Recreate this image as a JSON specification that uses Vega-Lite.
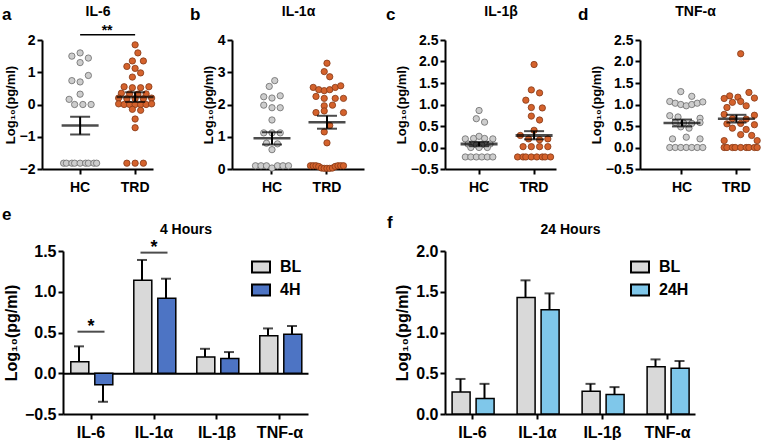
{
"$schema":"https://vega.github.io/schema/vega-lite/v6.json",
"padding":{"left":2,"top":4,"right":0,"bottom":0},
"config":{"font":"Liberation Sans","view":{"stroke":null},
"axis":{"domainColor":"black","domainWidth":2,"tickColor":"black","tickWidth":2,"tickSize":5,"labelColor":"black","titleColor":"black","labelFontWeight":"bold","titleFontWeight":"bold","grid":false,"labelFontSize":14,"titleFontSize":13,"labelOverlap":false},
"title":{"fontSize":17,"fontWeight":"bold","anchor":"start","frame":"group","color":"black","offset":-20},
"tick":{"color":"black"},"rule":{"color":"black"}},
"datasets":{
"pa":[{"g":"HC","v":1.6,"s":0},{"g":"HC","v":1.5,"s":-3},{"g":"HC","v":1.44,"s":3},{"g":"HC","v":1.3,"s":0},{"g":"HC","v":0.9,"s":3},{"g":"HC","v":0.74,"s":-3},{"g":"HC","v":0.7,"s":0},{"g":"HC","v":0.32,"s":0},{"g":"HC","v":0.16,"s":-4},{"g":"HC","v":0,"s":-2},{"g":"HC","v":0,"s":1},{"g":"HC","v":0,"s":4},{"g":"HC","v":-1.82,"s":-6},{"g":"HC","v":-1.82,"s":-5},{"g":"HC","v":-1.82,"s":-3},{"g":"HC","v":-1.82,"s":-2},{"g":"HC","v":-1.82,"s":0},{"g":"HC","v":-1.82,"s":2},{"g":"HC","v":-1.82,"s":3},{"g":"HC","v":-1.82,"s":5},{"g":"HC","v":-1.82,"s":6},
{"g":"TRD","v":1.85,"s":0},{"g":"TRD","v":1.6,"s":1},{"g":"TRD","v":1.35,"s":-1},{"g":"TRD","v":1.35,"s":3},{"g":"TRD","v":1.18,"s":-3},{"g":"TRD","v":1.12,"s":0},{"g":"TRD","v":0.98,"s":2},{"g":"TRD","v":0.85,"s":-1},{"g":"TRD","v":0.55,"s":-4},{"g":"TRD","v":0.52,"s":-1},{"g":"TRD","v":0.52,"s":2},{"g":"TRD","v":0.55,"s":5},{"g":"TRD","v":0.35,"s":-5},{"g":"TRD","v":0.33,"s":-2},{"g":"TRD","v":0.32,"s":1},{"g":"TRD","v":0.33,"s":4},{"g":"TRD","v":0.2,"s":-6},{"g":"TRD","v":0.18,"s":-3},{"g":"TRD","v":0.18,"s":0},{"g":"TRD","v":0.18,"s":3},{"g":"TRD","v":0.2,"s":6},{"g":"TRD","v":0.02,"s":-6},{"g":"TRD","v":0,"s":-4},{"g":"TRD","v":0,"s":-2},{"g":"TRD","v":0,"s":0},{"g":"TRD","v":0,"s":2},{"g":"TRD","v":0,"s":4},{"g":"TRD","v":0.02,"s":6},{"g":"TRD","v":-0.15,"s":-1},{"g":"TRD","v":-0.18,"s":2},{"g":"TRD","v":-0.45,"s":0},{"g":"TRD","v":-0.72,"s":0},{"g":"TRD","v":-1.82,"s":-3},{"g":"TRD","v":-1.82,"s":0},{"g":"TRD","v":-1.82,"s":3}],
"ma":[{"g":"HC","m":-0.65,"lo":-0.93,"hi":-0.38},{"g":"TRD","m":0.23,"lo":0.08,"hi":0.38}],
"pb":[{"g":"HC","v":2.74,"s":1},{"g":"HC","v":2.56,"s":-1},{"g":"HC","v":2.24,"s":-3},{"g":"HC","v":2.2,"s":0},{"g":"HC","v":2.27,"s":3},{"g":"HC","v":1.98,"s":-3},{"g":"HC","v":1.9,"s":0},{"g":"HC","v":1.9,"s":3},{"g":"HC","v":1.52,"s":0},{"g":"HC","v":1.12,"s":-3},{"g":"HC","v":1.12,"s":0},{"g":"HC","v":1.12,"s":3},{"g":"HC","v":0.8,"s":-2},{"g":"HC","v":0.78,"s":2},{"g":"HC","v":0.6,"s":0},{"g":"HC","v":0.1,"s":-6},{"g":"HC","v":0.1,"s":-4},{"g":"HC","v":0.1,"s":-2},{"g":"HC","v":0.03,"s":0},{"g":"HC","v":0.1,"s":2},{"g":"HC","v":0.1,"s":4},{"g":"HC","v":0.1,"s":6},
{"g":"TRD","v":3.28,"s":0},{"g":"TRD","v":3.02,"s":-1},{"g":"TRD","v":2.86,"s":1},{"g":"TRD","v":2.53,"s":-5},{"g":"TRD","v":2.46,"s":-3},{"g":"TRD","v":2.43,"s":-1},{"g":"TRD","v":2.46,"s":1},{"g":"TRD","v":2.53,"s":3},{"g":"TRD","v":2.58,"s":5},{"g":"TRD","v":2.25,"s":-4},{"g":"TRD","v":2.19,"s":-1},{"g":"TRD","v":2.19,"s":3},{"g":"TRD","v":2.19,"s":6},{"g":"TRD","v":1.96,"s":-1},{"g":"TRD","v":1.98,"s":2},{"g":"TRD","v":1.75,"s":-4},{"g":"TRD","v":1.8,"s":-1},{"g":"TRD","v":1.75,"s":6},{"g":"TRD","v":1.35,"s":1},{"g":"TRD","v":1.15,"s":-1},{"g":"TRD","v":0.81,"s":0},{"g":"TRD","v":0.1,"s":-6},{"g":"TRD","v":0.1,"s":-5},{"g":"TRD","v":0.1,"s":-4},{"g":"TRD","v":0.08,"s":-3},{"g":"TRD","v":0.03,"s":-2},{"g":"TRD","v":0.02,"s":-1},{"g":"TRD","v":0.02,"s":0},{"g":"TRD","v":0.02,"s":1},{"g":"TRD","v":0.03,"s":2},{"g":"TRD","v":0.08,"s":3},{"g":"TRD","v":0.1,"s":4},{"g":"TRD","v":0.1,"s":5},{"g":"TRD","v":0.1,"s":6}],
"mb":[{"g":"HC","m":0.95,"lo":0.76,"hi":1.14},{"g":"TRD","m":1.45,"lo":1.25,"hi":1.65}],
"pc":[{"g":"HC","v":0.86,"s":0},{"g":"HC","v":0.67,"s":-1},{"g":"HC","v":0.59,"s":2},{"g":"HC","v":0.2,"s":-5},{"g":"HC","v":0.21,"s":-2},{"g":"HC","v":0.26,"s":0},{"g":"HC","v":0.21,"s":2},{"g":"HC","v":0.2,"s":5},{"g":"HC","v":0.08,"s":-4},{"g":"HC","v":0.06,"s":-1},{"g":"HC","v":0.06,"s":1},{"g":"HC","v":0.08,"s":4},{"g":"HC","v":0,"s":-3},{"g":"HC","v":0,"s":0},{"g":"HC","v":0,"s":3},{"g":"HC","v":-0.22,"s":-5},{"g":"HC","v":-0.22,"s":-3},{"g":"HC","v":-0.22,"s":-1},{"g":"HC","v":-0.22,"s":1},{"g":"HC","v":-0.22,"s":3},{"g":"HC","v":-0.22,"s":5},
{"g":"TRD","v":1.93,"s":0},{"g":"TRD","v":1.34,"s":-1},{"g":"TRD","v":1.27,"s":2},{"g":"TRD","v":1.1,"s":-3},{"g":"TRD","v":0.93,"s":-1},{"g":"TRD","v":0.92,"s":3},{"g":"TRD","v":0.73,"s":-1},{"g":"TRD","v":0.64,"s":2},{"g":"TRD","v":0.4,"s":0},{"g":"TRD","v":0.28,"s":-5},{"g":"TRD","v":0.2,"s":-2},{"g":"TRD","v":0.18,"s":2},{"g":"TRD","v":0.2,"s":5},{"g":"TRD","v":0.02,"s":-4},{"g":"TRD","v":0.02,"s":-1},{"g":"TRD","v":0.02,"s":2},{"g":"TRD","v":0.02,"s":5},{"g":"TRD","v":-0.22,"s":-6},{"g":"TRD","v":-0.22,"s":-4},{"g":"TRD","v":-0.22,"s":-3},{"g":"TRD","v":-0.22,"s":-1},{"g":"TRD","v":-0.22,"s":1},{"g":"TRD","v":-0.22,"s":3},{"g":"TRD","v":-0.22,"s":4},{"g":"TRD","v":-0.22,"s":6}],
"mc":[{"g":"HC","m":0.08,"lo":0.03,"hi":0.13},{"g":"TRD","m":0.28,"lo":0.19,"hi":0.38}],
"pd":[{"g":"HC","v":1.3,"s":-2},{"g":"HC","v":1.19,"s":2},{"g":"HC","v":1.07,"s":-6},{"g":"HC","v":1.03,"s":-4},{"g":"HC","v":1.0,"s":-2},{"g":"HC","v":0.97,"s":0},{"g":"HC","v":1.0,"s":2},{"g":"HC","v":1.03,"s":4},{"g":"HC","v":1.06,"s":6},{"g":"HC","v":0.74,"s":-6},{"g":"HC","v":0.71,"s":-3},{"g":"HC","v":0.68,"s":5},{"g":"HC","v":0.58,"s":-4},{"g":"HC","v":0.57,"s":-1},{"g":"HC","v":0.56,"s":2},{"g":"HC","v":0.58,"s":5},{"g":"HC","v":0.48,"s":-2},{"g":"HC","v":0.45,"s":1},{"g":"HC","v":0.2,"s":-5},{"g":"HC","v":0.24,"s":0},{"g":"HC","v":0.2,"s":5},{"g":"HC","v":0,"s":-6},{"g":"HC","v":0,"s":-4},{"g":"HC","v":0,"s":-2},{"g":"HC","v":0,"s":0},{"g":"HC","v":0,"s":2},{"g":"HC","v":0,"s":4},{"g":"HC","v":0,"s":6},
{"g":"TRD","v":2.18,"s":0},{"g":"TRD","v":1.28,"s":3},{"g":"TRD","v":1.2,"s":-4},{"g":"TRD","v":1.17,"s":-1},{"g":"TRD","v":1.14,"s":-6},{"g":"TRD","v":1.15,"s":5},{"g":"TRD","v":1.05,"s":-3},{"g":"TRD","v":1.07,"s":0},{"g":"TRD","v":0.97,"s":2},{"g":"TRD","v":0.93,"s":-5},{"g":"TRD","v":0.77,"s":-6},{"g":"TRD","v":0.75,"s":5},{"g":"TRD","v":0.67,"s":-3},{"g":"TRD","v":0.66,"s":2},{"g":"TRD","v":0.55,"s":-5},{"g":"TRD","v":0.56,"s":0},{"g":"TRD","v":0.53,"s":5},{"g":"TRD","v":0.45,"s":-3},{"g":"TRD","v":0.42,"s":2},{"g":"TRD","v":0.3,"s":0},{"g":"TRD","v":0.28,"s":4},{"g":"TRD","v":0.16,"s":-6},{"g":"TRD","v":0.16,"s":6},{"g":"TRD","v":0,"s":-6},{"g":"TRD","v":0,"s":-5},{"g":"TRD","v":0,"s":-3},{"g":"TRD","v":0,"s":-2},{"g":"TRD","v":0,"s":0},{"g":"TRD","v":0,"s":2},{"g":"TRD","v":0,"s":3},{"g":"TRD","v":0,"s":5},{"g":"TRD","v":0,"s":6}],
"md":[{"g":"HC","m":0.57,"lo":0.49,"hi":0.65},{"g":"TRD","m":0.67,"lo":0.58,"hi":0.76}],
"be":[{"c":"IL-6","k":"BL","v":0.14,"e":0.33},{"c":"IL-6","k":"4H","v":-0.14,"e":-0.35},{"c":"IL-1α","k":"BL","v":1.14,"e":1.39},{"c":"IL-1α","k":"4H","v":0.92,"e":1.16},{"c":"IL-1β","k":"BL","v":0.2,"e":0.3},{"c":"IL-1β","k":"4H","v":0.18,"e":0.26},{"c":"TNF-α","k":"BL","v":0.46,"e":0.55},{"c":"TNF-α","k":"4H","v":0.48,"e":0.58}],
"bf":[{"c":"IL-6","k":"BL","v":0.27,"e":0.43},{"c":"IL-6","k":"24H","v":0.19,"e":0.37},{"c":"IL-1α","k":"BL","v":1.43,"e":1.64},{"c":"IL-1α","k":"24H","v":1.28,"e":1.48},{"c":"IL-1β","k":"BL","v":0.28,"e":0.37},{"c":"IL-1β","k":"24H","v":0.24,"e":0.33},{"c":"TNF-α","k":"BL","v":0.58,"e":0.67},{"c":"TNF-α","k":"24H","v":0.56,"e":0.65}],
"se":[{"c":"IL-6","y":0.51,"t":"*"},{"c":"IL-1α","y":1.48,"t":"*"}]
},
"concat":[
{"hconcat":[
{"width":111,"height":129,"title":{"text":"a","dx":-40},"resolve":{"axis":{"x":"independent"}},
"layer":[
{"data":{"name":"pa"},"mark":{"type":"point","filled":true,"size":40,"strokeWidth":0.8,"opacity":1},
"encoding":{"x":{"field":"g","type":"nominal","scale":{"type":"band","domain":["HC","TRD"],"paddingInner":0.35,"paddingOuter":0.184,"align":1},"axis":{"title":null,"labelAngle":0,"labelFontSize":14,"labelPadding":6}},
"xOffset":{"field":"s","type":"ordinal","scale":{"domain":[-6,-5,-4,-3,-2,-1,0,1,2,3,4,5,6]}},
"y":{"field":"v","type":"quantitative","scale":{"domain":[-2,2],"nice":false,"zero":false},"axis":{"title":"Log₁₀(pg/ml)","values":[-2,-1,0,1,2],"tickCount":10,"format":"d","titlePadding":2,"labelPadding":2,"labelOverlap":false}},
"fill":{"field":"g","type":"nominal","scale":{"domain":["HC","TRD"],"range":["#cdcdcd","#d4622c"]},"legend":null},
"stroke":{"field":"g","type":"nominal","scale":{"domain":["HC","TRD"],"range":["#6a6a6a","#843816"]},"legend":null}}},
{"data":{"name":"ma"},"mark":{"type":"tick","size":37,"thickness":2.5},"encoding":{"x":{"field":"g","type":"nominal","scale":{"type":"band"},"axis":{"orient":"top","title":"IL-6","labels":false,"ticks":false,"domain":false,"titleFontSize":14,"titlePadding":22}},"y":{"field":"m","type":"quantitative"}}},
{"data":{"name":"ma"},"mark":{"type":"rule","strokeWidth":2},"encoding":{"x":{"field":"g","type":"nominal","scale":{"type":"band"},"axis":null},"y":{"field":"lo","type":"quantitative"},"y2":{"field":"hi"}}},
{"data":{"name":"ma"},"mark":{"type":"tick","size":20,"thickness":2},"encoding":{"x":{"field":"g","type":"nominal","scale":{"type":"band"},"axis":null},"y":{"field":"lo","type":"quantitative"}}},
{"data":{"name":"ma"},"mark":{"type":"tick","size":20,"thickness":2},"encoding":{"x":{"field":"g","type":"nominal","scale":{"type":"band"},"axis":null},"y":{"field":"hi","type":"quantitative"}}},
{"data":{"values":[{"a":"HC","b":"TRD","y":2.16}]},"mark":{"type":"rule","strokeWidth":1.5},"encoding":{"x":{"field":"a","type":"nominal","scale":{"type":"band"},"axis":null},"x2":{"field":"b"},"y":{"field":"y","type":"quantitative"}}},
{"data":{"values":[{"a":"HC","y":2.16,"t":"**"}]},"mark":{"type":"text","dx":27,"dy":-4,"fontSize":14,"fontWeight":"bold","baseline":"middle"},"encoding":{"x":{"field":"a","type":"nominal","scale":{"type":"band"},"axis":null},"y":{"field":"y","type":"quantitative"},"text":{"field":"t"}}}
]},
{"hconcat":[
{"width":132,"height":129,"title":{"text":"b","dx":-42},"resolve":{"axis":{"x":"independent"}},
"layer":[
{"data":{"name":"pb"},"mark":{"type":"point","filled":true,"size":40,"strokeWidth":0.8,"opacity":1},
"encoding":{"x":{"field":"g","type":"nominal","scale":{"type":"band","domain":["HC","TRD"],"paddingInner":0.35,"paddingOuter":0.375,"align":0.536},"axis":{"title":null,"labelAngle":0,"labelFontSize":14,"labelPadding":6}},
"xOffset":{"field":"s","type":"ordinal","scale":{"domain":[-6,-5,-4,-3,-2,-1,0,1,2,3,4,5,6]}},
"y":{"field":"v","type":"quantitative","scale":{"domain":[0,4],"nice":false,"zero":false},"axis":{"title":"Log₁₀(pg/ml)","values":[0,1,2,3,4],"tickCount":10,"format":"d","titlePadding":2,"labelPadding":2,"labelOverlap":false}},
"fill":{"field":"g","type":"nominal","scale":{"domain":["HC","TRD"],"range":["#cdcdcd","#d4622c"]},"legend":null},
"stroke":{"field":"g","type":"nominal","scale":{"domain":["HC","TRD"],"range":["#6a6a6a","#843816"]},"legend":null}}},
{"data":{"name":"mb"},"mark":{"type":"tick","size":37,"thickness":2.5},"encoding":{"x":{"field":"g","type":"nominal","scale":{"type":"band"},"axis":{"orient":"top","title":"IL-1α","labels":false,"ticks":false,"domain":false,"titleFontSize":14,"titlePadding":22}},"y":{"field":"m","type":"quantitative"}}},
{"data":{"name":"mb"},"mark":{"type":"rule","strokeWidth":2},"encoding":{"x":{"field":"g","type":"nominal","scale":{"type":"band"},"axis":null},"y":{"field":"lo","type":"quantitative"},"y2":{"field":"hi"}}},
{"data":{"name":"mb"},"mark":{"type":"tick","size":20,"thickness":2},"encoding":{"x":{"field":"g","type":"nominal","scale":{"type":"band"},"axis":null},"y":{"field":"lo","type":"quantitative"}}},
{"data":{"name":"mb"},"mark":{"type":"tick","size":20,"thickness":2},"encoding":{"x":{"field":"g","type":"nominal","scale":{"type":"band"},"axis":null},"y":{"field":"hi","type":"quantitative"}}}
]},
{"width":111,"height":129,"title":{"text":"c","dx":-59},"resolve":{"axis":{"x":"independent"}},
"layer":[
{"data":{"name":"pc"},"mark":{"type":"point","filled":true,"size":40,"strokeWidth":0.8,"opacity":1},
"encoding":{"x":{"field":"g","type":"nominal","scale":{"type":"band","domain":["HC","TRD"],"paddingInner":0.35,"paddingOuter":0.184,"align":0.8},"axis":{"title":null,"labelAngle":0,"labelFontSize":14,"labelPadding":6}},
"xOffset":{"field":"s","type":"ordinal","scale":{"domain":[-6,-5,-4,-3,-2,-1,0,1,2,3,4,5,6]}},
"y":{"field":"v","type":"quantitative","scale":{"domain":[-0.5,2.5],"nice":false,"zero":false},"axis":{"title":"Log₁₀(pg/ml)","values":[-0.5,0,0.5,1,1.5,2,2.5],"tickCount":10,"format":".1f","titlePadding":2,"labelPadding":2,"labelOverlap":false}},
"fill":{"field":"g","type":"nominal","scale":{"domain":["HC","TRD"],"range":["#cdcdcd","#d4622c"]},"legend":null},
"stroke":{"field":"g","type":"nominal","scale":{"domain":["HC","TRD"],"range":["#6a6a6a","#843816"]},"legend":null}}},
{"data":{"name":"mc"},"mark":{"type":"tick","size":37,"thickness":3},"encoding":{"x":{"field":"g","type":"nominal","scale":{"type":"band"},"axis":{"orient":"top","title":"IL-1β","labels":false,"ticks":false,"domain":false,"titleFontSize":14,"titlePadding":22}},"y":{"field":"m","type":"quantitative"}}},
{"data":{"name":"mc"},"mark":{"type":"rule","strokeWidth":2},"encoding":{"x":{"field":"g","type":"nominal","scale":{"type":"band"},"axis":null},"y":{"field":"lo","type":"quantitative"},"y2":{"field":"hi"}}},
{"data":{"name":"mc"},"mark":{"type":"tick","size":20,"thickness":2},"encoding":{"x":{"field":"g","type":"nominal","scale":{"type":"band"},"axis":null},"y":{"field":"lo","type":"quantitative"}}},
{"data":{"name":"mc"},"mark":{"type":"tick","size":20,"thickness":2},"encoding":{"x":{"field":"g","type":"nominal","scale":{"type":"band"},"axis":null},"y":{"field":"hi","type":"quantitative"}}}
]},
{"width":110,"height":129,"title":{"text":"d","dx":-62},"resolve":{"axis":{"x":"independent"}},
"layer":[
{"data":{"name":"pd"},"mark":{"type":"point","filled":true,"size":40,"strokeWidth":0.8,"opacity":1},
"encoding":{"x":{"field":"g","type":"nominal","scale":{"type":"band","domain":["HC","TRD"],"paddingInner":0.5,"paddingOuter":0.261,"align":1},"axis":{"title":null,"labelAngle":0,"labelFontSize":14,"labelPadding":6}},
"xOffset":{"field":"s","type":"ordinal","scale":{"domain":[-6,-5,-4,-3,-2,-1,0,1,2,3,4,5,6]}},
"y":{"field":"v","type":"quantitative","scale":{"domain":[-0.5,2.5],"nice":false,"zero":false},"axis":{"title":"Log₁₀(pg/ml)","values":[-0.5,0,0.5,1,1.5,2,2.5],"tickCount":10,"format":".1f","titlePadding":2,"labelPadding":2,"labelOverlap":false}},
"fill":{"field":"g","type":"nominal","scale":{"domain":["HC","TRD"],"range":["#cdcdcd","#d4622c"]},"legend":null},
"stroke":{"field":"g","type":"nominal","scale":{"domain":["HC","TRD"],"range":["#6a6a6a","#843816"]},"legend":null}}},
{"data":{"name":"md"},"mark":{"type":"tick","size":37,"thickness":2.5},"encoding":{"x":{"field":"g","type":"nominal","scale":{"type":"band"},"axis":{"orient":"top","title":"TNF-α","labels":false,"ticks":false,"domain":false,"titleFontSize":14,"titlePadding":22}},"y":{"field":"m","type":"quantitative"}}},
{"data":{"name":"md"},"mark":{"type":"rule","strokeWidth":2},"encoding":{"x":{"field":"g","type":"nominal","scale":{"type":"band"},"axis":null},"y":{"field":"lo","type":"quantitative"},"y2":{"field":"hi"}}},
{"data":{"name":"md"},"mark":{"type":"tick","size":20,"thickness":2},"encoding":{"x":{"field":"g","type":"nominal","scale":{"type":"band"},"axis":null},"y":{"field":"lo","type":"quantitative"}}},
{"data":{"name":"md"},"mark":{"type":"tick","size":20,"thickness":2},"encoding":{"x":{"field":"g","type":"nominal","scale":{"type":"band"},"axis":null},"y":{"field":"hi","type":"quantitative"}}}
]}
],"spacing":22}
],"spacing":33},
{"concat":[
{"width":266,"height":163,"title":{"text":"e","dx":-40,"offset":-2},"resolve":{"axis":{"x":"independent"}},
"layer":[
{"data":{"name":"be"},"transform":[{"filter":"datum.k === 'BL'"}],"mark":{"type":"bar","width":{"band":0.41},"xOffset":-12,"stroke":"black","strokeWidth":1.5},
"encoding":{"x":{"field":"c","type":"nominal","scale":{"type":"band","domain":["IL-6","IL-1α","IL-1β","TNF-α"],"range":[21,266],"paddingInner":0.365,"paddingOuter":0.127},"axis":{"title":null,"labelAngle":0,"labelFontSize":16,"labelPadding":5}},
"y":{"field":"v","type":"quantitative","scale":{"domain":[-0.5,1.5],"nice":false,"zero":false},"axis":{"title":"Log₁₀(pg/ml)","values":[-0.5,0,0.5,1,1.5],"tickCount":10,"format":".1f","offset":-21,"labelFontSize":16,"titleFontSize":16,"titlePadding":5,"labelOverlap":false}},
"fill":{"field":"k","type":"nominal","scale":{"domain":["BL","4H"],"range":["#d9d9d9","#4d74c4"]},"legend":{"title":null,"orient":"top-right","offset":6,"symbolType":"M-1,-0.6H1V0.6H-1Z","symbolSize":324,"symbolStrokeColor":"black","symbolStrokeWidth":2,"symbolOpacity":1,"labelFontSize":16,"labelFontWeight":"bold","labelColor":"black","labelOffset":9,"rowPadding":3}}}},
{"data":{"name":"be"},"transform":[{"filter":"datum.k === '4H'"}],"mark":{"type":"bar","width":{"band":0.41},"xOffset":12,"stroke":"black","strokeWidth":1.5},
"encoding":{"x":{"field":"c","type":"nominal","scale":{"type":"band"},"axis":{"orient":"bottom","offset":-40.75,"labels":false,"ticks":false,"domain":true,"title":null,"domainWidth":2}},"y":{"field":"v","type":"quantitative"},"fill":{"field":"k","type":"nominal"}}},
{"data":{"name":"be"},"transform":[{"filter":"datum.k === 'BL'"}],"mark":{"type":"rule","strokeWidth":2,"xOffset":-12},"encoding":{"x":{"field":"c","type":"nominal","scale":{"type":"band"},"axis":null},"y":{"field":"v","type":"quantitative"},"y2":{"field":"e"}}},
{"data":{"name":"be"},"transform":[{"filter":"datum.k === '4H'"}],"mark":{"type":"rule","strokeWidth":2,"xOffset":12},"encoding":{"x":{"field":"c","type":"nominal","scale":{"type":"band"},"axis":null},"y":{"field":"v","type":"quantitative"},"y2":{"field":"e"}}},
{"data":{"name":"be"},"transform":[{"filter":"datum.k === 'BL'"}],"mark":{"type":"tick","size":10,"thickness":2,"xOffset":-12},"encoding":{"x":{"field":"c","type":"nominal","scale":{"type":"band"},"axis":null},"y":{"field":"e","type":"quantitative"}}},
{"data":{"name":"be"},"transform":[{"filter":"datum.k === '4H'"}],"mark":{"type":"tick","size":10,"thickness":2,"xOffset":12},"encoding":{"x":{"field":"c","type":"nominal","scale":{"type":"band"},"axis":null},"y":{"field":"e","type":"quantitative"}}},
{"data":{"name":"se"},"mark":{"type":"tick","size":27,"thickness":2},"encoding":{"x":{"field":"c","type":"nominal","scale":{"type":"band"},"axis":{"orient":"top","title":"4 Hours","labels":false,"ticks":false,"domain":false,"titleFontSize":14,"titlePadding":15}},"y":{"field":"y","type":"quantitative"}}},
{"data":{"name":"se"},"mark":{"type":"text","fontSize":18,"fontWeight":"bold","baseline":"middle","dy":-5},"encoding":{"x":{"field":"c","type":"nominal","scale":{"type":"band"},"axis":null},"y":{"field":"y","type":"quantitative"},"text":{"field":"t"}}}
]},
{"width":250,"height":163,"title":{"text":"f","dx":-58,"offset":-10},"resolve":{"axis":{"x":"independent"}},
"layer":[
{"data":{"name":"bf"},"transform":[{"filter":"datum.k === 'BL'"}],"mark":{"type":"bar","width":{"band":0.41},"xOffset":-12,"stroke":"black","strokeWidth":1.5},
"encoding":{"x":{"field":"c","type":"nominal","scale":{"type":"band","domain":["IL-6","IL-1α","IL-1β","TNF-α"],"paddingInner":0.37,"paddingOuter":0.108},"axis":{"title":null,"labelAngle":0,"labelFontSize":16,"labelPadding":5}},
"y":{"field":"v","type":"quantitative","scale":{"domain":[0,2],"nice":false,"zero":false},"axis":{"title":"Log₁₀(pg/ml)","values":[0,0.5,1,1.5,2],"tickCount":10,"format":".1f","labelFontSize":16,"titleFontSize":16,"titlePadding":5,"labelOverlap":false}},
"fill":{"field":"k","type":"nominal","scale":{"domain":["BL","24H"],"range":["#d9d9d9","#7fc7ea"]},"legend":{"title":null,"orient":"top-right","offset":6,"symbolType":"M-1,-0.6H1V0.6H-1Z","symbolSize":324,"symbolStrokeColor":"black","symbolStrokeWidth":2,"symbolOpacity":1,"labelFontSize":16,"labelFontWeight":"bold","labelColor":"black","labelOffset":9,"rowPadding":3}}}},
{"data":{"name":"bf"},"transform":[{"filter":"datum.k === '24H'"}],"mark":{"type":"bar","width":{"band":0.41},"xOffset":12,"stroke":"black","strokeWidth":1.5},
"encoding":{"x":{"field":"c","type":"nominal","scale":{"type":"band"},"axis":null},"y":{"field":"v","type":"quantitative"},"fill":{"field":"k","type":"nominal"}}},
{"data":{"name":"bf"},"transform":[{"filter":"datum.k === 'BL'"}],"mark":{"type":"rule","strokeWidth":2,"xOffset":-12},"encoding":{"x":{"field":"c","type":"nominal","scale":{"type":"band"},"axis":null},"y":{"field":"v","type":"quantitative"},"y2":{"field":"e"}}},
{"data":{"name":"bf"},"transform":[{"filter":"datum.k === '24H'"}],"mark":{"type":"rule","strokeWidth":2,"xOffset":12},"encoding":{"x":{"field":"c","type":"nominal","scale":{"type":"band"},"axis":null},"y":{"field":"v","type":"quantitative"},"y2":{"field":"e"}}},
{"data":{"name":"bf"},"transform":[{"filter":"datum.k === 'BL'"}],"mark":{"type":"tick","size":10,"thickness":2,"xOffset":-12},"encoding":{"x":{"field":"c","type":"nominal","scale":{"type":"band"},"axis":null},"y":{"field":"e","type":"quantitative"}}},
{"data":{"name":"bf"},"transform":[{"filter":"datum.k === '24H'"}],"mark":{"type":"tick","size":10,"thickness":2,"xOffset":12},"encoding":{"x":{"field":"c","type":"nominal","scale":{"type":"band"},"axis":{"orient":"top","title":"24 Hours","labels":false,"ticks":false,"domain":false,"titleFontSize":14,"titlePadding":15}},"y":{"field":"e","type":"quantitative"}}}
]}
],"columns":2,"align":"none","spacing":79,"resolve":{"scale":{"fill":"independent"},"legend":{"fill":"independent"}}}
],
"columns":1,"align":"none","spacing":12,
"resolve":{"scale":{"fill":"independent","stroke":"independent"},"legend":{"fill":"independent","stroke":"independent"}}
}
